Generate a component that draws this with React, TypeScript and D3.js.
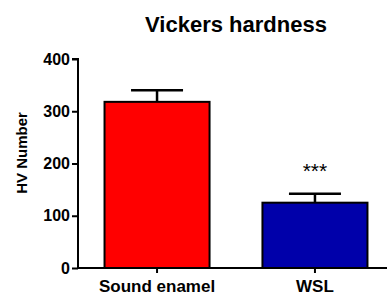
import React, { useRef, useEffect } from "react";
import * as d3 from "d3";

const categories = ["Sound enamel", "WSL"];
const means = [318, 125];
const errors = [22, 17];
const colors = ["#FF0000", "#0000AA"];
const yTicks = [0, 100, 200, 300, 400];
const significance = ["", "***"];

export default function App() {
  const svgRef = useRef<SVGSVGElement>(null);

  useEffect(() => {
    const svg = d3.select(svgRef.current);
    svg.selectAll("*").remove();

    const y = d3.scaleLinear().domain([0, 400]).range([268, 59]);
    const x = d3
      .scaleBand()
      .domain(categories)
      .range([78, 394])
      .paddingInner(0.335)
      .paddingOuter(0.168);

    const font = "Liberation Sans, Arial, sans-serif";

    // title
    svg
      .append("text")
      .attr("x", 236)
      .attr("y", 32)
      .attr("text-anchor", "middle")
      .attr("font-family", font)
      .attr("font-weight", "bold")
      .attr("font-size", 22)
      .text("Vickers hardness");

    // bars
    const g = svg.append("g");
    categories.forEach((c, i) => {
      const bx = x(c)!;
      const cx = bx + x.bandwidth() / 2;
      g.append("rect")
        .attr("x", bx)
        .attr("y", y(means[i]))
        .attr("width", x.bandwidth())
        .attr("height", y(0) - y(means[i]))
        .attr("fill", colors[i])
        .attr("stroke", "#000")
        .attr("stroke-width", 2);
      // error bar
      g.append("line")
        .attr("x1", cx)
        .attr("x2", cx)
        .attr("y1", y(means[i]))
        .attr("y2", y(means[i] + errors[i]))
        .attr("stroke", "#000")
        .attr("stroke-width", 2.5);
      g.append("line")
        .attr("x1", cx - 26)
        .attr("x2", cx + 26)
        .attr("y1", y(means[i] + errors[i]))
        .attr("y2", y(means[i] + errors[i]))
        .attr("stroke", "#000")
        .attr("stroke-width", 2.5);
      if (significance[i]) {
        g.append("text")
          .attr("x", cx)
          .attr("y", y(means[i] + errors[i]) - 16)
          .attr("text-anchor", "middle")
          .attr("font-family", font)
          .attr("font-size", 21)
          .text(significance[i]);
      }
    });

    // y axis
    const yAxis = d3.axisLeft(y).tickValues(yTicks).tickSize(6).tickPadding(2);
    const ya = svg.append("g").attr("transform", "translate(78,0)").call(yAxis);
    ya.select(".domain").attr("stroke-width", 2).attr("d", `M-6,${y(400)}H0V${y(0)}`);
    ya.selectAll(".tick line").attr("stroke-width", 2);
    ya.selectAll(".tick text")
      .attr("font-family", font)
      .attr("font-weight", "bold")
      .attr("font-size", 16)
      .attr("fill", "#000");

    // x axis
    const xAxis = d3.axisBottom(x).tickSize(5).tickPadding(7);
    const xa = svg.append("g").attr("transform", `translate(0,${y(0)})`).call(xAxis);
    xa.select(".domain").attr("stroke-width", 2).attr("d", "M78,0H394");
    xa.selectAll(".tick line").attr("stroke-width", 2);
    xa.selectAll(".tick text")
      .attr("font-family", font)
      .attr("font-weight", "bold")
      .attr("font-size", 17)
      .attr("fill", "#000");

    // y label
    svg
      .append("text")
      .attr("transform", "translate(27,153) rotate(-90)")
      .attr("text-anchor", "middle")
      .attr("font-family", font)
      .attr("font-weight", "bold")
      .attr("font-size", 15)
      .text("HV Number");
  }, []);

  return (
    <div>
      <svg
        ref={svgRef}
        width={387}
        height={296}
        style={{ position: "absolute", left: 0, top: 0, background: "#fff" }}
      />
    </div>
  );
}
